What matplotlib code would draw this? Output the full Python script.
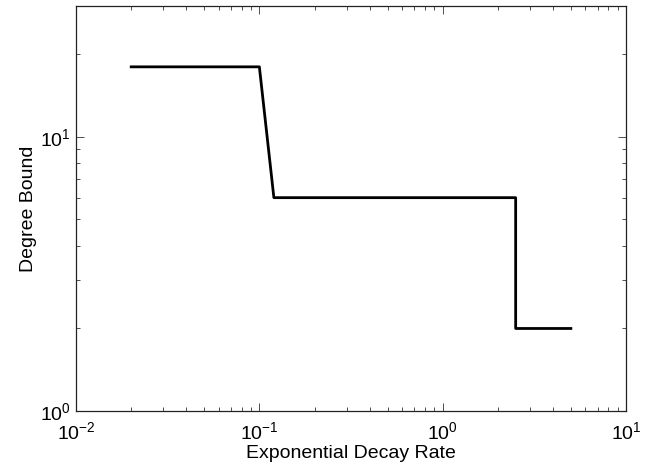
import matplotlib
matplotlib.use("Agg")
import matplotlib.pyplot as plt

plt.rcParams['font.family'] = ['Liberation Sans', 'DejaVu Sans']
plt.rcParams['mathtext.default'] = 'regular'

# step curve of the bound
decay_rate = [0.02, 0.1, 0.12, 2.5, 2.5, 5]
degree_bound = [18, 18, 6, 6, 2, 2]

fig = plt.figure(figsize=(6.52, 4.70), dpi=100)
ax = fig.add_axes([0.1166, 0.1255, 0.8436, 0.8617])

ax.plot(decay_rate, degree_bound, color='black', lw=2)
ax.set_xscale('log')
ax.set_yscale('log')
ax.set_xlim(1e-2, 1e1)
ax.set_ylim(1, 30)

ax.set_xlabel("Exponential Decay Rate", fontsize=14, labelpad=2)
ax.set_ylabel("Degree Bound", fontsize=14, labelpad=2)

ax.tick_params(which='both', direction='in', top=True, right=True, labelsize=14,
               width=0.6, color='#333333')
ax.tick_params(which='major', length=6, pad=4)
ax.tick_params(axis='x', which='major', pad=7)
ax.tick_params(which='minor', length=3)
ax.yaxis.set_minor_formatter(matplotlib.ticker.NullFormatter())
for s in ax.spines.values():
    s.set_linewidth(0.9)
    s.set_color('#222222')

fig.savefig("out.png", dpi=100)
